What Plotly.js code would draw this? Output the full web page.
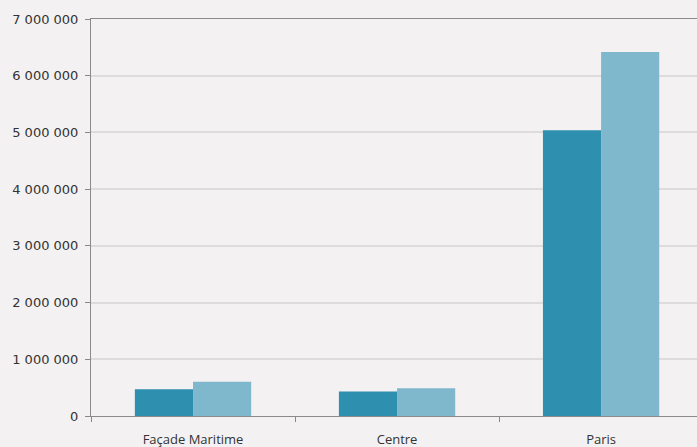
<!DOCTYPE html>
<html>
<head>
<meta charset="utf-8">
<script src="https://cdn.plot.ly/plotly-3.0.1.min.js"></script>
<style>html,body{margin:0;padding:0;background:#f3f1f1;}</style>
</head>
<body>
<div id="chart" style="width:697px;height:447px;"></div>
<script>
const categories = ["Façade Maritime", "Centre", "Paris"];
const series1 = [470000, 430000, 5040000];
const series2 = [605000, 490000, 6420000];
const yTicks = [0, 1000000, 2000000, 3000000, 4000000, 5000000, 6000000, 7000000];

const data = [
  {type: "bar", x: categories, y: series1, marker: {color: "#2f8fae"}, hoverinfo: "y"},
  {type: "bar", x: categories, y: series2, marker: {color: "#7fb7cc"}, hoverinfo: "y"}
];

const layout = {
  width: 697, height: 447,
  margin: {l: 91, r: 0, t: 19, b: 31},
  paper_bgcolor: "#f3f1f1",
  plot_bgcolor: "#f3f1f1",
  separators: ", ",
  showlegend: false,
  barmode: "group",
  bargap: 0.43,
  bargroupgap: 0,
  font: {family: "Open Sans, sans-serif", size: 12, color: "#333333"},
  xaxis: {
    type: "category",
    range: [-0.5, 2.47],
    tickson: "boundaries",
    ticks: "outside", ticklen: 5, tickcolor: "#888888",
    showline: true, linecolor: "#8a8a8a", linewidth: 1, mirror: true,
    showgrid: false,
    automargin: false,
    ticklabelstandoff: 11,
    tickfont: {family: "Open Sans, sans-serif", size: 13, color: "#333333"}
  },
  yaxis: {
    range: [0, 7000000],
    tickvals: yTicks,
    tickformat: ",d",
    ticks: "outside", ticklen: 5, tickcolor: "#888888",
    showline: true, linecolor: "#8a8a8a", linewidth: 1,
    gridcolor: "#dcdcdc", gridwidth: 2,
    zeroline: false,
    automargin: false,
    ticklabelstandoff: 4,
    tickfont: {family: "DejaVu Sans, sans-serif", size: 13, color: "#333333"}
  }
};

Plotly.newPlot("chart", data, layout, {displayModeBar: false, staticPlot: true});
</script>
</body>
</html>
